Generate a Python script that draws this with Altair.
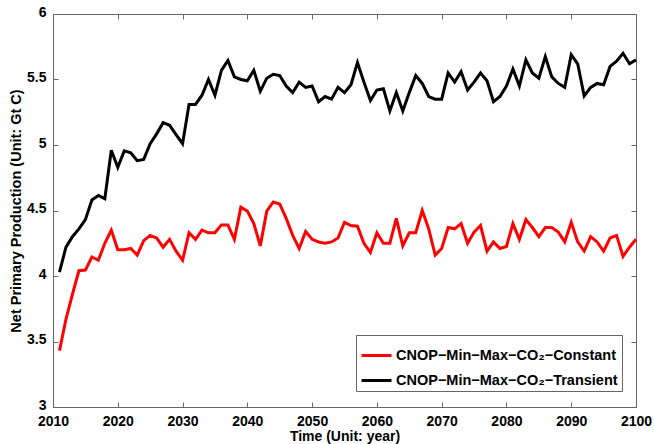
import altair as alt
import pandas as pd

years = list(range(2011, 2101))

npp_constant = [
    3.43, 3.67, 3.86, 4.04, 4.045, 4.145, 4.12, 4.25, 4.35, 4.20,
    4.20, 4.21, 4.16, 4.27, 4.31, 4.29, 4.22, 4.28, 4.19, 4.12,
    4.33, 4.28, 4.35, 4.33, 4.33, 4.39, 4.39, 4.28, 4.525, 4.495,
    4.40, 4.23, 4.495, 4.565, 4.55, 4.44, 4.31, 4.21, 4.34, 4.28,
    4.26, 4.25, 4.26, 4.29, 4.41, 4.385, 4.38, 4.25, 4.18, 4.33,
    4.25, 4.25, 4.44, 4.23, 4.33, 4.33, 4.50, 4.36, 4.16, 4.21,
    4.37, 4.36, 4.40, 4.25, 4.335, 4.385, 4.19, 4.26, 4.21, 4.225,
    4.40, 4.28, 4.43, 4.37, 4.30, 4.37, 4.37, 4.335, 4.26, 4.41,
    4.26, 4.19, 4.30, 4.26, 4.19, 4.29, 4.31, 4.15, 4.22, 4.28,
]

npp_transient = [
    4.03, 4.22, 4.30, 4.36, 4.43, 4.58, 4.615, 4.59, 4.96, 4.83,
    4.955, 4.94, 4.88, 4.89, 5.01, 5.085, 5.17, 5.15, 5.08, 5.01,
    5.31, 5.31, 5.38, 5.50, 5.38, 5.57, 5.645, 5.52, 5.50, 5.49,
    5.57, 5.41, 5.51, 5.54, 5.53, 5.45, 5.40, 5.48, 5.44, 5.45,
    5.33, 5.37, 5.35, 5.44, 5.40, 5.46, 5.63, 5.48, 5.34, 5.42,
    5.43, 5.26, 5.40, 5.26, 5.40, 5.53, 5.47, 5.37, 5.35, 5.35,
    5.55, 5.48, 5.56, 5.42, 5.48, 5.55, 5.49, 5.33, 5.37, 5.45,
    5.58, 5.45, 5.65, 5.55, 5.51, 5.675, 5.52, 5.47, 5.44, 5.69,
    5.62, 5.375, 5.44, 5.47, 5.46, 5.60, 5.64, 5.70, 5.62, 5.65,
]

series_names = [
    "CNOP\u2212Min\u2212Max\u2212CO\u2082\u2212Constant",
    "CNOP\u2212Min\u2212Max\u2212CO\u2082\u2212Transient",
]
series_colors = ["#ff0000", "#000000"]

x_ticks = list(range(2010, 2101, 10))
y_ticks = [3, 3.5, 4, 4.5, 5, 5.5, 6]

df = pd.concat(
    [
        pd.DataFrame({"year": years, "npp": npp_constant, "series": series_names[0]}),
        pd.DataFrame({"year": years, "npp": npp_transient, "series": series_names[1]}),
    ],
    ignore_index=True,
)

FONT = "Liberation Sans"

x_scale = alt.Scale(domain=[2010, 2100], nice=False, zero=False)
y_scale = alt.Scale(domain=[3, 6], nice=False, zero=False)
color_scale = alt.Scale(domain=series_names, range=series_colors)

base = alt.Chart(df)

# main curves with bottom/left axes (ticks drawn inward)
lines = base.mark_line(strokeWidth=3, strokeJoin="miter").encode(
    x=alt.X(
        "year:Q",
        scale=x_scale,
        axis=alt.Axis(
            values=x_ticks,
            format="d",
            title="Time (Unit: year)",
            labelPadding=7,
            labelFlush=False,
            titlePadding=1,
            titleFontSize=14,
        ),
    ),
    y=alt.Y(
        "npp:Q",
        scale=y_scale,
        axis=alt.Axis(
            values=y_ticks,
            format="~g",
            title="Net Primary Production (Unit: Gt C)",
            labelPadding=7,
            labelOffset=-2,
            labelFlush=False,
            titlePadding=3,
        ),
    ),
    color=alt.Color(
        "series:N",
        scale=color_scale,
        sort=series_names,
        legend=alt.Legend(
            title=None,
            orient="none",
            legendX=303,
            legendY=321,
            symbolType="stroke",
            symbolStrokeWidth=3,
            symbolSize=900,
            labelFont=FONT,
            labelFontSize=14.5,
            labelFontWeight="bold",
            labelColor="#000000",
            labelOffset=3,
            labelLimit=400,
            rowPadding=2,
            padding=4,
            strokeColor="#666666",
            fillColor="#ffffff",
        ),
    ),
)

# mirrored top/right axes for the boxed frame
mirror = base.mark_line(opacity=0).encode(
    x=alt.X(
        "year:Q",
        scale=x_scale,
        axis=alt.Axis(values=x_ticks, orient="top", labels=False, title=None),
    ),
    y=alt.Y(
        "npp:Q",
        scale=y_scale,
        axis=alt.Axis(values=y_ticks, orient="right", labels=False, title=None),
    ),
    color=alt.Color("series:N", scale=color_scale, legend=None),
)

chart = (
    alt.layer(lines, mirror)
    .resolve_axis(x="independent", y="independent")
    .properties(
        width=583,
        height=393,
        autosize=alt.AutoSizeParams(type="none"),
        padding={"left": 53, "top": 14, "right": 18, "bottom": 37},
        background="#ffffff",
    )
    .configure_view(stroke="#666666", strokeWidth=1)
    .configure_axis(
        domain=False,
        grid=False,
        ticks=True,
        tickColor="#666666",
        tickSize=5,
        tickWidth=1,
        offset=-5,
        labelFont=FONT,
        labelFontSize=14,
        labelFontWeight="bold",
        labelColor="#000000",
        titleFont=FONT,
        titleFontSize=14.5,
        titleFontWeight="bold",
        titleColor="#000000",
    )
)

chart.save("out.html", embed_options={"renderer": "svg", "actions": False})
